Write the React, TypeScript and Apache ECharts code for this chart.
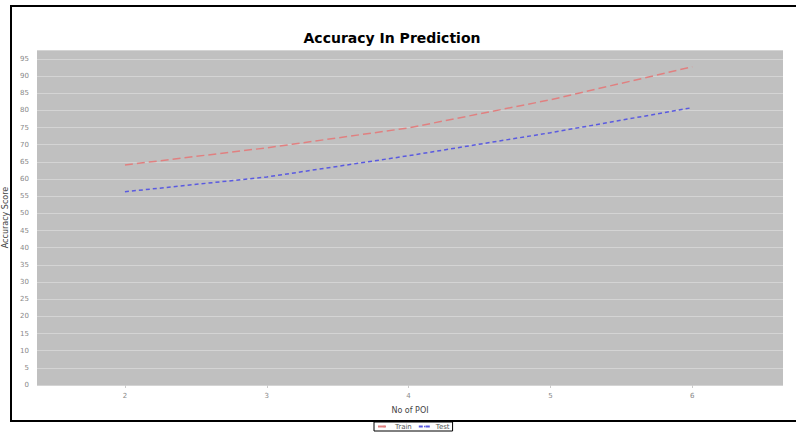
import React, { useEffect, useRef } from "react";
import * as echarts from "echarts";

const xTicks = [2, 3, 4, 5, 6];
const yTicksMin = 0;
const yTicksStep = 5;
const trainValues = [64.1, 69.1, 74.9, 83.1, 92.7];
const testValues = [56.3, 60.6, 66.8, 73.5, 80.8];
const seriesNames = ["Train", "Test"];

export default function App() {
  const ref = useRef<HTMLDivElement>(null);
  useEffect(() => {
    if (!ref.current) return;
    const chart = echarts.init(ref.current, null, { renderer: "svg" });
    const font = "DejaVu Sans";
    chart.setOption({
      animation: false,
      backgroundColor: "#ffffff",
      title: {
        text: "Accuracy In Prediction",
        left: 387,
        top: 26,
        textAlign: "center",
        textStyle: { fontFamily: font, fontWeight: "bold", fontSize: 14, color: "#000" },
      },
      graphic: [
        {
          type: "rect",
          shape: { x: 11, y: 6, width: 800, height: 415 },
          style: { fill: "none", stroke: "#000", lineWidth: 2 },
          z: 100,
        },
      ],
      legend: {
        data: seriesNames,
        left: 374,
        top: 422,
        itemWidth: 12,
        itemHeight: 2,
        itemGap: 6,
        padding: [1, 3],
        borderColor: "#000",
        borderWidth: 1,
        textStyle: { fontFamily: font, fontSize: 7, color: "#555" },
      },
      grid: {
        left: 37,
        top: 50,
        right: 13,
        bottom: 50,
        backgroundColor: "#c0c0c0",
        show: true,
        borderWidth: 0,
        outerBoundsMode: "none",
        containLabel: false,
      },
      xAxis: {
        type: "value",
        min: 1.38,
        max: 6.64,
        name: "No of POI",
        nameLocation: "middle",
        nameGap: 21,
        nameTextStyle: { fontFamily: font, fontSize: 8, color: "#444" },
        axisLine: { show: false },
        axisTick: { show: true, customValues: xTicks, length: 3, lineStyle: { color: "#ccc" } },
        axisLabel: { customValues: xTicks, fontFamily: font, fontSize: 7, color: "#888", margin: 7 },
        splitLine: { show: false },
      },
      yAxis: {
        type: "value",
        min: yTicksMin,
        max: 97.6,
        interval: yTicksStep,
        name: "Accuracy Score",
        nameLocation: "middle",
        nameGap: 28,
        nameTextStyle: { fontFamily: font, fontSize: 8, color: "#444" },
        axisLine: { show: false },
        axisTick: { show: false },
        axisLabel: { fontFamily: font, fontSize: 7, color: "#888", margin: 8, showMaxLabel: false },
        splitLine: { show: true, lineStyle: { color: "#d4d4d4", width: 1 } },
      },
      series: [
        {
          name: seriesNames[0],
          type: "line",
          data: xTicks.map((x, i) => [x, trainValues[i]]),
          symbol: "none",
          lineStyle: { color: "#e08080", width: 1.5, type: [8, 4] },
          itemStyle: { color: "#e08080" },
        },
        {
          name: seriesNames[1],
          type: "line",
          data: xTicks.map((x, i) => [x, testValues[i]]),
          symbol: "none",
          lineStyle: { color: "#5a5ae0", width: 1.5, type: [4, 3] },
          itemStyle: { color: "#5a5ae0" },
        },
      ],
    });
    return () => chart.dispose();
  }, []);
  return <div ref={ref} style={{ width: 796, height: 435, position: "absolute", left: 0, top: 0 }} />;
}
